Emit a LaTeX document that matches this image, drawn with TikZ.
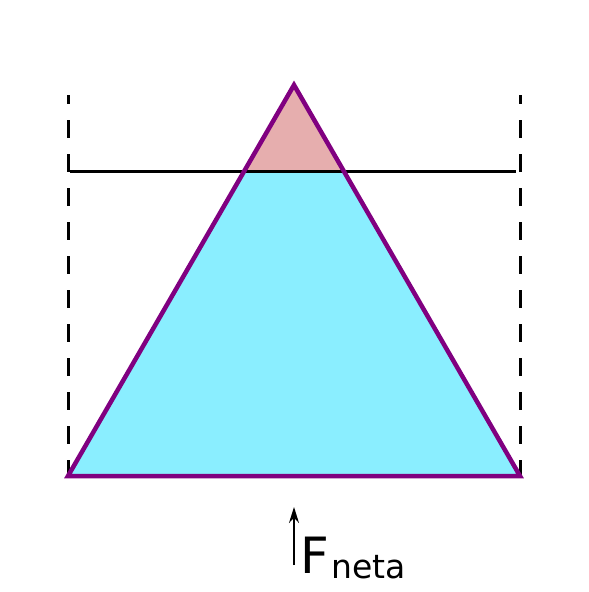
\documentclass[tikz,border=0pt]{standalone}
\usepackage{fontspec}
\setmainfont{DejaVu Sans}
\usetikzlibrary{arrows.meta,positioning,calc}

\definecolor{waterblue}{HTML}{8AEEFF}
\definecolor{icepink}{HTML}{E6AEAE}
\definecolor{edgepurple}{HTML}{800080}

\begin{document}
\begin{tikzpicture}[
            x=1pt, y=-1pt,
            wall/.style={
                draw=black,
                line width=3pt,
                dash pattern=on 18pt off 16pt,
                dash phase=9pt
            },
            surface/.style={
                draw=black,
                line width=3pt
            },
            body/.style={
                draw=edgepurple,
                line width=4.5pt,
                line join=miter
            },
            forcelabel/.style={
                inner sep=0pt,
                anchor=base west
            }
        ]

            \useasboundingbox (0,0) rectangle (589,592);

            % --- Corners of the floating body ---
            \coordinate (apex) at (294,85);
            \coordinate (baseL) at (68,476);
            \coordinate (baseR) at (520,476);
            \coordinate (cutL) at ($(apex)!0.22!(baseL)$);
            \coordinate (cutR) at ($(apex)!0.22!(baseR)$);

            % --- Fills: part above and below the surface ---
            \fill[waterblue] (cutL) -- (baseL) -- (baseR) -- (cutR) -- cycle;
            \fill[icepink] (apex) -- (cutL) -- (cutR) -- cycle;

            % --- Container walls ---
            \coordinate (wallLtop) at (68,95);
            \coordinate (wallRtop) at (520,95);
            \draw[wall] (wallLtop) -- (baseL);
            \draw[wall] (wallRtop) -- (baseR);

            % --- Water surface ---
            \coordinate (surfL) at (70,171);
            \coordinate (surfR) at (516,171);
            \draw[surface] (surfL) -- (surfR);

            % --- Outline of the body ---
            \draw[body] (apex) -- (baseL) -- (baseR) -- cycle;

            % --- Net force ---
            \node[forcelabel, font=\fontsize{50}{50}\selectfont] (F) at (300,573) {F};
            \node[forcelabel, font=\fontsize{33}{33}\selectfont] (neta) at (331,578) {neta};
            \coordinate (arrowtail) at (294,565);
            \coordinate (arrowtip) at (294,507);
            \draw[line width=1.3pt, -{Stealth[length=16pt,width=10pt]}] (arrowtail) -- (arrowtip);
        \end{tikzpicture}
\end{document}
